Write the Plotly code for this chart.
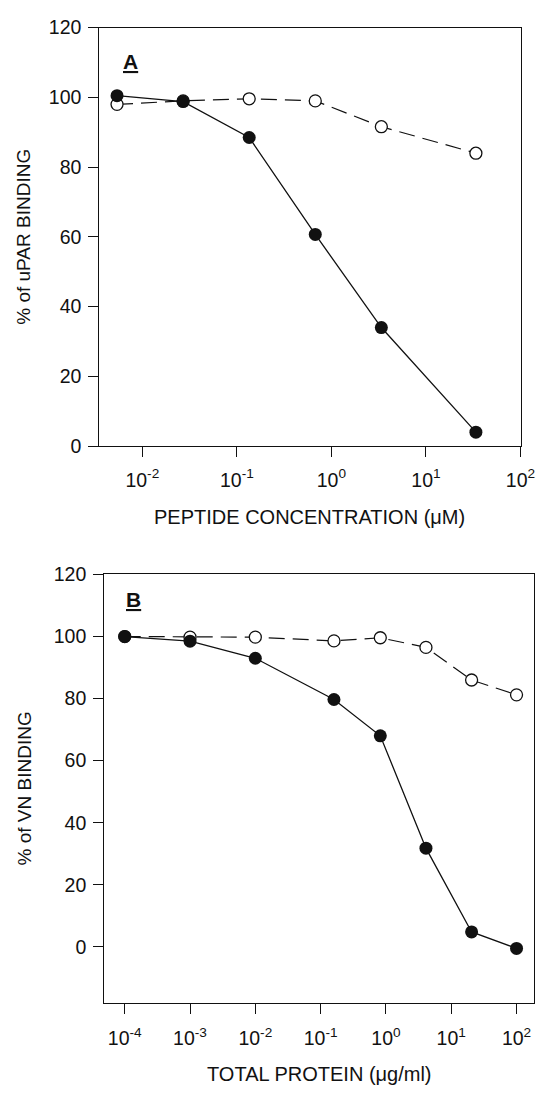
import plotly.graph_objects as go

W, H = 552, 1097

# Panel A data (peptide concentration, uM)
conc_a = [0.0054, 0.027, 0.135, 0.675, 3.375, 33.75]
filled_a = [100.5, 98.8, 88.5, 60.7, 34.0, 4.0]
open_a = [98.0, 99.0, 99.6, 99.0, 91.6, 84.0]

# Panel B data (total protein, ug/ml)
prot_b = [0.0001, 0.001, 0.01, 0.16, 0.82, 4.1, 20.5, 100.0]
filled_b = [100.0, 98.5, 93.0, 79.7, 68.0, 31.8, 4.8, -0.5]
open_b = [100.0, 99.8, 99.8, 98.6, 99.6, 96.5, 86.0, 81.2]

ticks_a = [0.01, 0.1, 1, 10, 100]
ticktext_a = ["10<sup>-2</sup>", "10<sup>-1</sup>", "10<sup>0</sup>", "10<sup>1</sup>", "10<sup>2</sup>"]
ticks_b = [1e-4, 1e-3, 1e-2, 1e-1, 1, 10, 100]
ticktext_b = ["10<sup>-4</sup>", "10<sup>-3</sup>", "10<sup>-2</sup>", "10<sup>-1</sup>",
              "10<sup>0</sup>", "10<sup>1</sup>", "10<sup>2</sup>"]
yticks_a = [0, 20, 40, 60, 80, 100, 120]
yticks_b = [0, 20, 40, 60, 80, 100, 120]

FONT = "Liberation Sans, Arial, sans-serif"
INK = "#111111"

fig = go.Figure()

def add_pair(x, yo, yf, xa, ya):
    fig.add_trace(go.Scatter(
        x=x, y=yo, xaxis=xa, yaxis=ya, mode="lines+markers",
        line=dict(color=INK, width=1.2, dash="16px,8px"),
        marker=dict(size=12, color="white", line=dict(color=INK, width=1.3)),
        showlegend=False))
    fig.add_trace(go.Scatter(
        x=x, y=yf, xaxis=xa, yaxis=ya, mode="lines+markers",
        line=dict(color=INK, width=1.3),
        marker=dict(size=13, color=INK, line=dict(color=INK, width=0)),
        showlegend=False))

add_pair(conc_a, open_a, filled_a, "x", "y")
add_pair(prot_b, open_b, filled_b, "x2", "y2")

ax_common = dict(showline=True, linecolor=INK, linewidth=1.3, mirror=True,
                 ticks="outside", ticklen=10, tickwidth=1.3, tickcolor=INK,
                 showgrid=False, zeroline=False,
                 tickfont=dict(family=FONT, size=19.5, color=INK))

fig.update_layout(
    width=W, height=H,
    margin=dict(l=0, r=0, t=0, b=0),
    paper_bgcolor="white", plot_bgcolor="white",
    xaxis=dict(domain=[102 / W, 535 / W], type="log", range=[-2.454, 2.01],
               tickvals=ticks_a, ticktext=ticktext_a, anchor="y",
               ticklabelstandoff=6, **ax_common),
    yaxis=dict(domain=[1 - 444 / H, 1 - 17 / H], range=[0, 120],
               tickvals=yticks_a, anchor="x", ticklabelstandoff=3, **ax_common),
    xaxis2=dict(domain=[107 / W, 548 / W], type="log", range=[-4.313, 2.269],
                tickvals=ticks_b, ticktext=ticktext_b, anchor="y2",
                ticklabelstandoff=8, **ax_common),
    yaxis2=dict(domain=[1 - 1012 / H, 1 - 575 / H], range=[-18, 120],
                tickvals=yticks_b, anchor="x2", ticklabelstandoff=3, **ax_common),
)

def ann(text, x, y, size, angle=0):
    fig.add_annotation(text=text, x=x / W, y=1 - y / H, xref="paper", yref="paper",
                       showarrow=False, textangle=angle, xanchor="center", yanchor="middle",
                       font=dict(family=FONT, size=size, color=INK))

ann("<b><u>A</u></b>", 134, 52, 21)
ann("<b><u>B</u></b>", 137, 601, 21)
ann("% of uPAR BINDING", 24, 230, 19, angle=-90)
ann("% of VN BINDING", 25, 793, 19, angle=-90)
ann("PEPTIDE CONCENTRATION (μM)", 318, 516, 20)
ann("TOTAL PROTEIN (μg/ml)", 328, 1085, 20)

fig.write_html("out.html")
